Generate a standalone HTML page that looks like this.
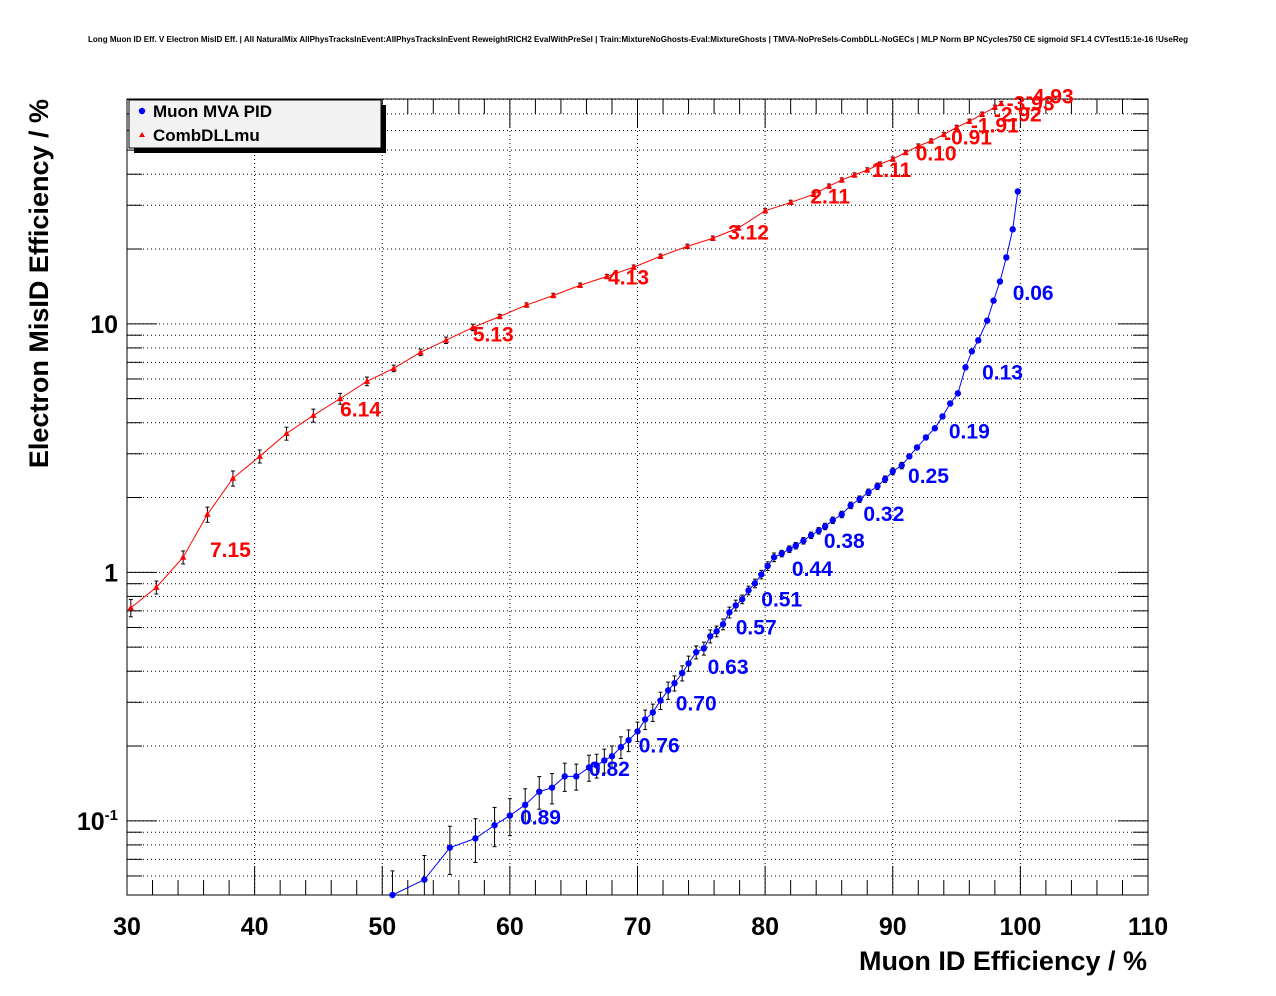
<!DOCTYPE html>
<html><head><meta charset="utf-8"><style>
html,body{margin:0;padding:0;background:#fff;}
svg{display:block;font-family:"Liberation Sans",sans-serif;}
</style></head><body>
<svg id="chart" width="1276" height="996" viewBox="0 0 1276 996">
<text x="638" y="42" font-size="8" font-weight="bold" text-anchor="middle" textLength="1100" lengthAdjust="spacingAndGlyphs">Long Muon ID Eff. V Electron MisID Eff. | All NaturalMix AllPhysTracksInEvent:AllPhysTracksInEvent ReweightRICH2 EvalWithPreSel | Train:MixtureNoGhosts-Eval:MixtureGhosts | TMVA-NoPreSels-CombDLL-NoGECs | MLP Norm BP NCycles750 CE sigmoid SF1.4 CVTest15:1e-16 !UseReg</text>
<g id="grid"></g>
<g id="axes"></g>
<g id="series"></g>
<g>
<rect x="134" y="105" width="252" height="48" fill="#000"/>
<rect x="129" y="100" width="252" height="48" fill="#f2f2f2" stroke="#000" stroke-width="1"/>
<circle cx="142" cy="111" r="3.2" fill="#0000ff"/>
<text x="153" y="117" font-size="17" font-weight="bold">Muon MVA PID</text>
<polygon points="142,132 139,137 145,137" fill="#ff0000"/>
<text x="153" y="141" font-size="17" font-weight="bold">CombDLLmu</text>
</g>
<text x="1147" y="970" font-size="27" font-weight="bold" text-anchor="end">Muon ID Efficiency / %</text>
<text x="0" y="0" font-size="27" font-weight="bold" text-anchor="end" transform="translate(48,99) rotate(-90)">Electron MisID Efficiency / %</text>
</svg>
<script>
const xTicks=[30,40,50,60,70,80,90,100,110];
const redX=[30.3,32.3,34.4,36.3,38.3,40.4,42.5,44.6,46.7,48.8,50.9,53.0,55.0,57.1,59.2,61.3,63.4,65.5,67.6,69.7,71.8,73.9,75.9,77.9,80.0,82.0,83.8,85,86,87,88,89,90,91,92,93,94,95,96,97,98,98.5];
const redY=[0.72,0.87,1.15,1.71,2.39,2.93,3.62,4.28,5.0,5.87,6.62,7.68,8.59,9.67,10.7,11.9,13.0,14.3,15.5,16.9,18.7,20.5,22.1,24.3,28.5,30.8,33.2,35.8,37.9,39.7,41.6,43.9,46.0,48.9,51.9,54.4,57.8,61.7,65.3,69.7,74.4,77];
const redErr=[0.08,0.06,0.06,0.07,0.07,0.06,0.06,0.06,0.05,0.04,0.03,0.03,0.03,0.03,0.02,0.02,0.02,0.02,0.02,0.02,0.02,0.02,0.02,0.02,0.02,0.02,0.02,0.02,0.02,0.02,0.02,0.02,0.02,0.02,0.02,0.02,0.02,0.02,0.02,0.02,0.02,0.02];
const redLabels=["7.15","6.14","5.13","4.13","3.12","2.11","1.11","0.10","-0.91","-1.91","-2.92","-3.93","-4.93"];
const redLabX=[38.1,48.3,58.7,69.3,78.7,85.1,89.9,93.4,95.9,98.0,99.8,100.8,102.3];
const redLabY=[1.24,4.57,9.16,15.5,23.5,32.9,41.9,49.0,56.8,63.5,70.3,77.8,83];
const blueX=[50.8,53.3,55.3,57.3,58.8,60,61.2,62.3,63.3,64.3,65.2,66.2,66.8,67.4,68,68.7,69.3,70,70.6,71.2,71.8,72.4,72.9,73.5,74,74.6,75.2,75.7,76.2,76.7,77.2,77.7,78.2,78.7,79.2,79.7,80.2,80.7,81.3,81.9,82.4,83,83.6,84.2,84.7,85.3,86,86.7,87.4,88.1,88.8,89.4,90,90.7,91.3,91.9,92.6,93.3,93.9,94.5,95.1,95.7,96.2,96.7,97.4,97.9,98.4,98.9,99.4,99.8];
const blueY=[0.0503,0.058,0.078,0.085,0.096,0.105,0.116,0.131,0.136,0.151,0.151,0.164,0.167,0.175,0.182,0.198,0.211,0.229,0.256,0.273,0.305,0.335,0.358,0.393,0.43,0.477,0.494,0.553,0.579,0.618,0.69,0.736,0.779,0.846,0.903,0.98,1.06,1.15,1.19,1.24,1.28,1.34,1.41,1.47,1.53,1.62,1.71,1.86,1.97,2.1,2.22,2.37,2.55,2.69,2.93,3.18,3.49,3.8,4.24,4.78,5.25,6.68,7.75,8.58,10.3,12.4,14.8,18.5,24.0,34.1];
const blueErr=[0.25,0.25,0.22,0.2,0.18,0.17,0.16,0.15,0.14,0.13,0.12,0.12,0.11,0.11,0.1,0.1,0.1,0.09,0.09,0.08,0.08,0.08,0.07,0.07,0.07,0.06,0.06,0.06,0.05,0.05,0.05,0.05,0.04,0.04,0.04,0.04,0.04,0.04,0.03,0.03,0.03,0.03,0.03,0.03,0.03,0.03,0.03,0.03,0.03,0.03,0.03,0.03,0.03,0.03,0.02,0.02,0.02,0.02,0.02,0.02,0.02,0.02,0.02,0.02,0.02,0.02,0.02,0.02,0.02,0.02];
const blueLabels=["0.06","0.13","0.19","0.25","0.32","0.38","0.44","0.51","0.57","0.63","0.70","0.76","0.82","0.89"];
const blueLabX=[101.0,98.6,96.0,92.8,89.3,86.2,83.7,81.3,79.3,77.1,74.6,71.7,67.8,62.4];
const blueLabY=[13.4,6.44,3.73,2.46,1.73,1.35,1.04,0.786,0.606,0.419,0.30,0.203,0.163,0.104];

const NS="http://www.w3.org/2000/svg";
const L=127,R=1148,T=99,B=895;
const X0=30,X1=110,LY0=Math.log10(0.0503),LY1=Math.log10(80.3);
function sx(v){return L+(v-X0)/(X1-X0)*(R-L);}
function sy(v){return B-(Math.log10(v)-LY0)/(LY1-LY0)*(B-T);}
function mk(tag,attrs,parent){const e=document.createElementNS(NS,tag);for(const k in attrs)e.setAttribute(k,attrs[k]);parent.appendChild(e);return e;}
const grid=document.getElementById('grid'),axes=document.getElementById('axes'),ser=document.getElementById('series');
for(const v of xTicks){if(v===X0||v===X1)continue;
 const g=mk('line',{x1:sx(v),x2:sx(v),y1:T,y2:B,stroke:'#000','stroke-width':1,'stroke-dasharray':'1,3'},grid);
 
 }
const yGridVals=[];
for(const d of [0.01,0.1,1,10]){for(let m=1;m<10;m++){const v=d*m;if(v>0.0503&&v<80.3)yGridVals.push(v);}}
for(const v of yGridVals){
 const g=mk('line',{x1:L,x2:R,y1:sy(v),y2:sy(v),stroke:'#000','stroke-width':1,'stroke-dasharray':'1,3'},grid);
 
 }
const fr=mk('rect',{x:L,y:T,width:R-L,height:B-T,fill:'none',stroke:'#000','stroke-width':1},axes);


for(let v=X0;v<=X1;v+=2){const major=(v%10===0);const len=major?29:15;
 mk('line',{x1:sx(v),x2:sx(v),y1:B,y2:B-len,stroke:'#000'},axes);
 mk('line',{x1:sx(v),x2:sx(v),y1:T,y2:T+len,stroke:'#000'},axes);}
for(const v of xTicks){const t=mk('text',{x:sx(v),y:935,'font-size':25,'font-weight':'bold','text-anchor':'middle'},axes);t.textContent=v;
 
 }
for(const v of yGridVals){const major=Math.abs(Math.log10(v)-Math.round(Math.log10(v)))<1e-9;const len=major?30:15;
 mk('line',{x1:L,x2:L+len,y1:sy(v),y2:sy(v),stroke:'#000'},axes);
 mk('line',{x1:R,x2:R-len,y1:sy(v),y2:sy(v),stroke:'#000'},axes);}
const yl=[[10,'10'],[1,'1']];
for(const [v,s] of yl){const t=mk('text',{x:118,y:sy(v)+9,'font-size':25,'font-weight':'bold','text-anchor':'end'},axes);t.textContent=s;
 
 }
const t01=mk('text',{x:118,y:sy(0.1)+9,'font-size':25,'font-weight':'bold','text-anchor':'end'},axes);


t01.innerHTML='10<tspan font-size="15" dy="-10">-1</tspan>';
function drawSeries(xs,ys,errs,color,shape,name){
 const g=mk('g',{},ser);
 
 
 const pts=xs.map((x,i)=>sx(x)+','+sy(ys[i])).join(' ');
 mk('polyline',{points:pts,fill:'none',stroke:color,'stroke-width':1},g);
 xs.forEach((x,i)=>{const cx=sx(x),cy=sy(ys[i]);
  const y1=sy(ys[i]*(1+errs[i])),y2=sy(ys[i]*Math.max(0.01,1-errs[i]));
  mk('line',{x1:cx,x2:cx,y1:Math.max(T,y1),y2:Math.min(B,y2),stroke:'#000','stroke-width':1},g);
  mk('line',{x1:cx-2,x2:cx+2,y1:Math.max(T,y1),y2:Math.max(T,y1),stroke:'#000'},g);
  mk('line',{x1:cx-2,x2:cx+2,y1:Math.min(B,y2),y2:Math.min(B,y2),stroke:'#000'},g);
  let m;
  if(shape==='circle')m=mk('circle',{cx:cx,cy:cy,r:3.2,fill:color},g);
  else m=mk('polygon',{points:`${cx},${cy-3.5} ${cx-3.2},${cy+2.5} ${cx+3.2},${cy+2.5}`,fill:color},g);
  
  });
}
drawSeries(redX,redY,redErr,'#ff0000','tri','combdllmu-series');
drawSeries(blueX,blueY,blueErr,'#0000ff','circle','muon-mva-series');
function drawLabels(lx,ly,lab,color,name){
 lab.forEach((s,i)=>{const t=mk('text',{x:sx(lx[i]),y:sy(ly[i])+8,'font-size':21,'font-weight':'bold',fill:color,'text-anchor':'middle'},ser);
  t.textContent=s;
  
  });
}
drawLabels(redLabX,redLabY,redLabels,'#ff0000','combdllmu-cut-label');
drawLabels(blueLabX,blueLabY,blueLabels,'#0000ff','muon-mva-cut-label');
</script>
</body></html>
